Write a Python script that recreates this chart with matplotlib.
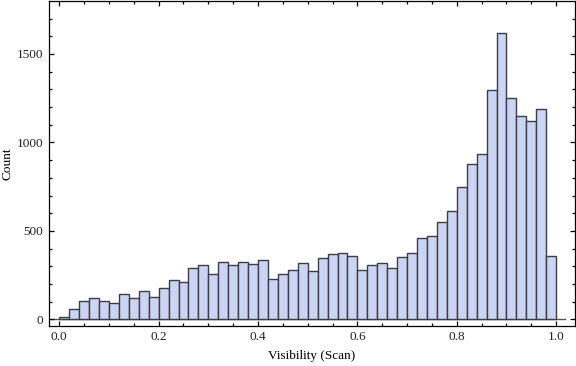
import numpy as np
import matplotlib
matplotlib.use("Agg")
import matplotlib.pyplot as plt
from matplotlib.ticker import MultipleLocator

# histogram of scan visibility, 50 bins on [0, 1]
bin_width = 0.02
bin_edges = np.round(np.arange(0, 1.0 + bin_width / 2, bin_width), 2)
counts = [13, 58, 102, 119, 102, 90, 141, 119, 158, 124,
          175, 220, 209, 290, 305, 254, 322, 305, 322, 311,
          333, 226, 254, 277, 316, 271, 345, 367, 373, 356,
          277, 305, 316, 288, 350, 373, 458, 469, 548, 610,
          751, 876, 932, 1294, 1616, 1249, 1147, 1119, 1187, 356]

x_ticks = [0.0, 0.2, 0.4, 0.6, 0.8, 1.0]
y_ticks = [0, 500, 1000, 1500]

plt.rcParams["font.family"] = ["Liberation Serif", "DejaVu Serif"]

fig = plt.figure(figsize=(5.76, 3.66), dpi=100)
ax = fig.add_axes([0.085, 0.110, 0.913, 0.887])

ax.bar(bin_edges[:-1], counts, width=bin_width, align="edge",
       color="#ccd4f4", edgecolor="#3c3c44", linewidth=1.0, zorder=2)

# Mathematica-style axis line at y=0
ax.plot([-0.017, 1.017], [0, 0], color="#555555", linewidth=1.0, zorder=1)

ax.set_xlim(-0.0207, 1.0376)
ax.set_ylim(-36, 1799)

ax.set_xticks(x_ticks)
ax.set_xticklabels(["%.1f" % t for t in x_ticks])
ax.set_yticks(y_ticks)
ax.xaxis.set_minor_locator(MultipleLocator(0.05))
ax.yaxis.set_minor_locator(MultipleLocator(100))

ax.tick_params(which="both", direction="in", top=True, right=True,
               labeltop=False, labelright=False, labelsize=9.5,
               colors="black", labelcolor="#222222", width=0.9)
ax.tick_params(which="major", length=3.5, pad=4)
ax.tick_params(which="minor", length=2.0)

for s in ax.spines.values():
    s.set_linewidth(0.9)
    s.set_color("black")

ax.set_xlabel("Visibility (Scan)", fontsize=9.5, labelpad=5)
ax.set_ylabel("Count", fontsize=9.5, va="center")
ax.yaxis.set_label_coords(-0.079, 0.5)

fig.savefig("out.png", dpi=100)
